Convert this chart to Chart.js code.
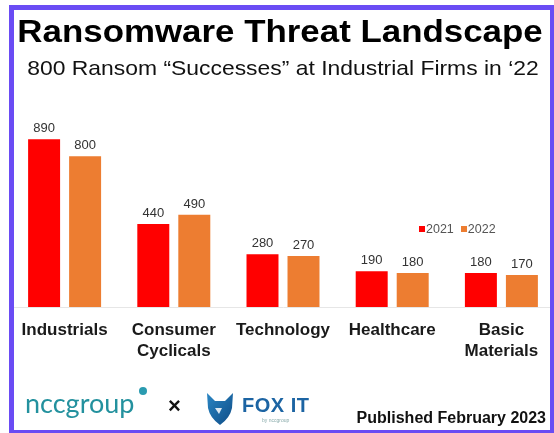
<!DOCTYPE html>
<html>
<head>
<meta charset="utf-8">
<script src="https://cdn.jsdelivr.net/npm/chart.js@4.4.1/dist/chart.umd.min.js"></script>
<style>
  html, body { margin: 0; padding: 0; width: 554px; height: 433px; overflow: hidden; background: #fff; }
  #frame { position: absolute; z-index: 5; left: 9px; top: 5px; width: 536px; height: 420px; border-style: solid; border-color: #6a4cf4; border-width: 5px 4px 3px 5px; pointer-events: none; }
  #wrap { position: absolute; left: 0; top: 0; width: 560px; height: 433px; }
  .txt { position: absolute; white-space: nowrap; font-family: "Liberation Sans", Arial, sans-serif; line-height: 1; }
  #title { left: 280px; top: 15px; font-size: 32px; font-weight: bold; color: #000; transform: translateX(-50%) scaleX(1.09); }
  #subtitle { left: 283px; top: 57px; font-size: 21px; color: #111; transform: translateX(-50%) scaleX(1.09); }
  #legend { left: 419px; top: 223px; font-size: 12.5px; color: #555; }
  #legend span.box { display: inline-block; width: 6px; height: 6px; margin-right: 1px; vertical-align: 1px; }
  #legend span.item { margin-right: 7px; }
  #published { right: 8px; top: 410px; font-size: 16px; font-weight: bold; color: #111; }
  #ncc { left: 25px; top: 389px; font-family: Lato, "Open Sans", sans-serif; font-size: 27px; color: #23919e; }
  #nccdot { position: absolute; left: 139px; top: 387px; width: 8px; height: 8px; border-radius: 50%; background: #2a9bb0; }
  #times { left: 168px; top: 395px; font-size: 22px; font-weight: bold; color: #111; }
  #fox { position: absolute; left: 206px; top: 392px; }
  #foxit { left: 242px; top: 395px; font-size: 20px; font-weight: 900; color: #1c64a3; letter-spacing: 0.5px; }
  #foxby { left: 262px; top: 418px; font-size: 5px; color: #8aa; }
</style>
</head>
<body>
<div id="frame"></div>
<div id="wrap"><canvas id="chart" width="560" height="433"></canvas></div>
<div class="txt" id="title">Ransomware Threat Landscape</div>
<div class="txt" id="subtitle">800 Ransom “Successes” at Industrial Firms in ‘22</div>
<div class="txt" id="legend"></div>
<div class="txt" id="ncc">nccgroup</div>
<div id="nccdot"></div>
<div class="txt" id="times">×</div>
<svg id="fox" width="28" height="34" viewBox="0 0 28 34">
  <defs>
    <linearGradient id="fg" x1="0" y1="0" x2="1" y2="1">
      <stop offset="0" stop-color="#2a86c4"/>
      <stop offset="1" stop-color="#0f4c86"/>
    </linearGradient>
  </defs>
  <path d="M1 1 L9 9 L19 9 L27 1 L26 16 Q24 26 14 33 Q4 26 2 16 Z" fill="url(#fg)"/>
  <path d="M9 16 L16 16 L13 22 Z" fill="#fff" opacity="0.85"/>
</svg>
<div class="txt" id="foxit">FOX IT</div>
<div class="txt" id="foxby">by nccgroup</div>
<div class="txt" id="published">Published February 2023</div>

<script>
// datos del grafico
var categories = [['Industrials'], ['Consumer', 'Cyclicals'], ['Technology'], ['Healthcare'], ['Basic', 'Materials']];
var seriesLabels = ['2021', '2022'];
var values2021 = [890, 440, 280, 190, 180];
var values2022 = [800, 490, 270, 180, 170];
var seriesColors = ['#ff0000', '#ed7d31'];

// leyenda en html
var legendHtml = '';
seriesLabels.forEach(function (lbl, i) {
    legendHtml += '<span class="item"><span class="box" style="background:' + seriesColors[i] + '"></span>' + lbl + '</span>';
});
document.getElementById('legend').innerHTML = legendHtml;

// etiquetas de valor sobre cada barra
var valueLabels = {
    id: 'valueLabels',
    afterDatasetsDraw: function (chart) {
        var ctx = chart.ctx;
        ctx.save();
        ctx.font = '13px "Liberation Sans", Arial, sans-serif';
        ctx.fillStyle = '#333';
        ctx.textAlign = 'center';
        ctx.textBaseline = 'alphabetic';
        chart.data.datasets.forEach(function (ds, i) {
            chart.getDatasetMeta(i).data.forEach(function (bar, j) {
                ctx.fillText(ds.data[j], bar.x, bar.y - 7);
            });
        });
        ctx.restore();
    }
};

var ctx = document.getElementById('chart').getContext('2d');
var chart = new Chart(ctx, {
    type: 'bar',
    data: {
        labels: categories,
        datasets: [{
            label: seriesLabels[0],
            data: values2021,
            backgroundColor: seriesColors[0]
        }, {
            label: seriesLabels[1],
            data: values2022,
            backgroundColor: seriesColors[1]
        }]
    },
    options: {
        responsive: false,
        animation: false,
        devicePixelRatio: 1,
        categoryPercentage: 0.751,
        barPercentage: 0.78,
        layout: { padding: { top: 118.5, left: 10, right: 4, bottom: 0 } },
        plugins: {
            legend: { display: false },
            tooltip: { enabled: false }
        },
        scales: {
            x: {
                grid: { display: false, drawTicks: false },
                border: { display: true, color: '#e6e6e6', width: 1 },
                ticks: {
                    color: '#1a1a1a',
                    padding: 13,
                    font: { family: '"Liberation Sans", Arial, sans-serif', size: 17, weight: 'bold', lineHeight: 1.24 }
                },
                afterFit: function (scale) { scale.height = 126; }
            },
            y: {
                display: false,
                min: 0,
                max: 1000
            }
        }
    },
    plugins: [valueLabels]
});
</script>
</body>
</html>
